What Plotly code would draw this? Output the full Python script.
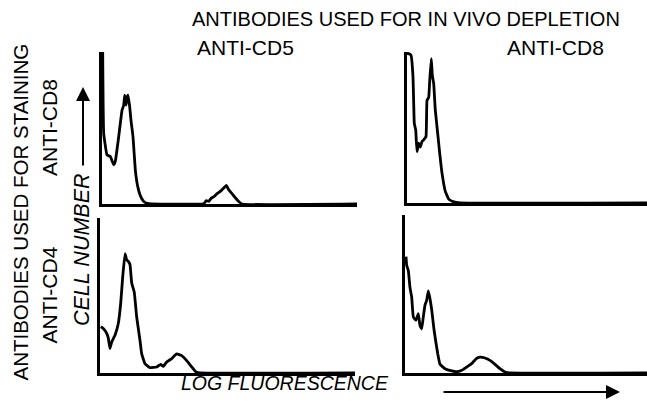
import plotly.graph_objects as go

W, H = 647, 405

# x: fluorescence channel (log scale, 1 px per channel), y: relative cell number (% of axis height)
cd5_cd8_x = [0.7, 1.7, 5, 8.3, 11.7, 13.3, 16.7, 20, 21.7, 22.7, 24, 25, 26, 27.7, 29, 31, 33.3,
             35.7, 38.3, 41.7, 46.7, 101.7, 104.3, 106.7, 109, 112.3, 115, 118.3, 121.7, 124.3,
             126.7, 130, 133.3, 136.7, 140, 255]
cd5_cd8_y = [100, 46.5, 32.3, 31.2, 25.8, 28, 44.3, 61.6, 65, 71.6, 65, 69.9, 71.6, 64, 55, 44.3,
             22.5, 11.6, 5.5, 1.7, 0.2, 0.2, 2.2, 1.7, 3.7, 5, 6.8, 8.3, 10.5, 12.2, 9.4, 6.8,
             4.1, 1.7, 0, 0]

cd8_cd8_x = [0, 1.7, 4, 6, 7.3, 8.7, 10, 11.7, 13.3, 15, 16.7, 19, 20, 21.7, 22.7, 24.3, 25.3,
             26.7, 28.3, 30, 32.7, 35, 38.3, 41.7, 46.7, 53, 240]
cd8_cd8_y = [99, 98.9, 97.8, 83.5, 52.7, 48.4, 34, 39.6, 37, 40.7, 41.8, 44, 68, 70, 81, 95.6,
             84.6, 79, 61.5, 50.5, 33, 19.8, 7.7, 2.6, 0.7, 0, 0]

cd5_cd4_x = [0.7, 3.3, 6.7, 8.3, 10, 11.7, 15, 18.3, 20.7, 22.7, 25, 26.7, 28.3, 30, 31.7, 34.3,
             36.7, 40, 41.7, 45, 50, 56.7, 60.7, 63.3, 66.7, 71.7, 76.7, 81.7, 86.7, 91.7, 96,
             100, 255]
cd5_cd4_y = [29.8, 28.7, 25.5, 22.5, 15.8, 20, 24.4, 32, 45, 62, 77, 73, 72, 70, 58, 52, 36, 21,
             12.3, 6, 3.5, 3.9, 5.6, 4.3, 7.1, 9.3, 12.3, 11.2, 8, 3.9, 0.6, 0, 0]

cd8_cd4_x = [1, 1.7, 3.3, 5, 6.7, 8.3, 11, 13.3, 15, 16.7, 18.3, 20, 21.7, 23.3, 25, 26.7, 29,
             31, 32.7, 35, 40, 46.7, 51.7, 56.7, 61.7, 66.7, 71, 75, 80, 85, 90, 95, 100, 105,
             242]
cd8_cd4_y = [73.6, 68, 65, 54, 48, 35.5, 33.4, 37.6, 30, 28, 35.5, 43, 46, 52, 47, 40, 27.5,
             19, 12.3, 5.5, 2.7, 1.3, 0.8, 1.7, 3.8, 5.9, 9, 10, 9.5, 8, 5.5, 2.7, 0.6, 0, 0]

col_titles = ["ANTI-CD5", "ANTI-CD8"]
row_titles = ["ANTI-CD8", "ANTI-CD4"]
main_title = "ANTIBODIES USED FOR IN VIVO DEPLETION"
side_title = "ANTIBODIES USED FOR STAINING"
x_title = "LOG FLUORESCENCE"
y_title = "CELL NUMBER"

FONT = "Liberation Sans"


def px(x):
    return x / W


def py(y):
    return 1 - y / H


panels = [
    # (x data, y data, x-domain px, y-domain px (top, baseline), x range)
    (cd5_cd8_x, cd5_cd8_y, (102, 357), (52, 204), 255),
    (cd8_cd8_x, cd8_cd8_y, (407, 647), (52, 203), 240),
    (cd5_cd4_x, cd5_cd4_y, (100, 355), (218, 373), 255),
    (cd8_cd4_x, cd8_cd4_y, (405, 647), (215, 373), 242),
]

fig = go.Figure()
layout = {}
for i, (xs, ys, (x0, x1), (ytop, ybase), xmax) in enumerate(panels, start=1):
    sfx = "" if i == 1 else str(i)
    fig.add_trace(go.Scatter(
        x=xs, y=ys, mode="lines",
        line=dict(color="black", width=2.8, shape="spline", smoothing=0.3),
        xaxis="x" + sfx, yaxis="y" + sfx, showlegend=False, hoverinfo="skip",
        cliponaxis=False,
    ))
    layout["xaxis" + sfx] = dict(
        domain=[px(x0), min(px(x1), 1.0)], range=[0, xmax], anchor="y" + sfx,
        showline=True, linecolor="black", linewidth=2.6, showgrid=False,
        zeroline=False, showticklabels=False, ticks="", fixedrange=True,
    )
    layout["yaxis" + sfx] = dict(
        domain=[py(ybase), py(ytop)], range=[0, 100], anchor="x" + sfx,
        showline=True, linecolor="black", linewidth=2.6, showgrid=False,
        zeroline=False, showticklabels=False, ticks="", fixedrange=True,
    )

fig.update_layout(**layout)

ann = []


def text(t, x, y, size, angle=0, italic=False):
    ann.append(dict(
        text=t, x=px(x), y=py(y), xref="paper", yref="paper", showarrow=False,
        xanchor="center", yanchor="middle", textangle=angle,
        font=dict(family=FONT, size=size, color="black",
                  style="italic" if italic else "normal"),
    ))


text(main_title, 406, 18.5, 20)
text(col_titles[0], 245, 47.5, 21)
text(col_titles[1], 555, 47.5, 21)
text(side_title, 19.5, 212, 20.5, angle=-90)
text(row_titles[0], 50, 128, 21, angle=-90)
text(row_titles[1], 48.5, 295, 21, angle=-90)
text(y_title, 82, 250, 21.5, angle=-90, italic=True)
text(x_title, 284.5, 383, 19.5, italic=True)

# axis arrows
ann.append(dict(x=px(83), y=py(87), xref="paper", yref="paper", ax=0, ay=80,
                axref="pixel", ayref="pixel", showarrow=True, arrowhead=2,
                arrowsize=1.4, arrowwidth=2, arrowcolor="black", text=""))
ann.append(dict(x=px(620), y=py(392), xref="paper", yref="paper", ax=-178, ay=0,
                axref="pixel", ayref="pixel", showarrow=True, arrowhead=2,
                arrowsize=1.4, arrowwidth=2, arrowcolor="black", text=""))

fig.update_layout(
    annotations=ann,
    width=W, height=H, autosize=False,
    margin=dict(l=0, r=0, t=0, b=0),
    paper_bgcolor="white", plot_bgcolor="white",
    showlegend=False,
)

fig.write_html("out.html", config={"displayModeBar": False},
               post_script="document.body.style.margin='0';")
